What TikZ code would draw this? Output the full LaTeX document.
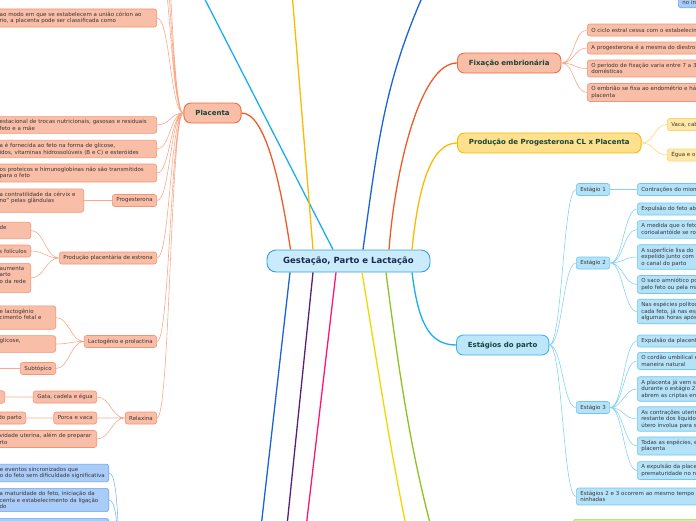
\documentclass[tikz,border=0pt]{standalone}
\usepackage{fontspec}
\setmainfont{DejaVu Sans}
\usetikzlibrary{positioning}

\definecolor{salfill}{HTML}{F9BEA7}
\definecolor{saldraw}{HTML}{F49472}
\definecolor{salmain}{HTML}{F06B40}
\definecolor{salline}{HTML}{F9A98A}
\definecolor{redline}{HTML}{F05A28}
\definecolor{yelfill}{HTML}{FFE08C}
\definecolor{yeldraw}{HTML}{F7B900}
\definecolor{yelsub}{HTML}{FFE7A6}
\definecolor{yelsubdraw}{HTML}{FCD36A}
\definecolor{yelline}{HTML}{FFB900}
\definecolor{yelkid}{HTML}{FFD978}
\definecolor{cyafill}{HTML}{BDE6FA}
\definecolor{cyadraw}{HTML}{3DB2EC}
\definecolor{cyasub}{HTML}{B3E2F9}
\definecolor{cyasubdraw}{HTML}{6FC8F1}
\definecolor{cyaline}{HTML}{1CADEC}
\definecolor{cyakid}{HTML}{86D2F4}
\definecolor{blufill}{HTML}{A9CCF8}
\definecolor{bludraw}{HTML}{6CA3EF}
\definecolor{bluline}{HTML}{1A63DC}
\definecolor{blukid}{HTML}{8AB6F2}
\definecolor{purline}{HTML}{5B1E78}
\definecolor{pinkline}{HTML}{FF1675}
\definecolor{goldline}{HTML}{F2D600}
\definecolor{grnline}{HTML}{8DC21F}
\definecolor{grnfill}{HTML}{D5EBAA}
\definecolor{grndraw}{HTML}{AED36A}
\definecolor{cenfill}{HTML}{C9EBFB}
\definecolor{cendraw}{HTML}{3A9FDB}
\definecolor{centext}{HTML}{1B2B4F}
\definecolor{toptext}{HTML}{134637}
\definecolor{subtext}{HTML}{3B3535}

\tikzset{
  central/.style={draw=cendraw, fill=cenfill, line width=0.9pt, rounded corners=9pt,
    minimum width=163pt, minimum height=22pt, text=centext,
    font=\fontsize{8.5}{10}\selectfont\bfseries},
  topic/.style={line width=0.9pt, rounded corners=7pt, minimum height=20pt,
    inner xsep=11.5pt, text=toptext, font=\fontsize{7}{8}\selectfont\bfseries},
  sub/.style={line width=0.6pt, rounded corners=2.5pt, minimum height=12pt,
    inner xsep=4pt, inner ysep=3pt, align=left, text=subtext,
    font=\fontsize{5.5}{6.5}\selectfont},
  salm/.style={fill=salfill, draw=saldraw},
  yel/.style={fill=yelsub, draw=yelsubdraw},
  cya/.style={fill=cyasub, draw=cyasubdraw},
  blu/.style={fill=blufill, draw=bludraw},
  lkid/.style={out=180, in=0, distance=13pt},
  rkid/.style={out=0, in=180, distance=13pt},
  branch/.style={line width=1.3pt},
  twig/.style={line width=0.6pt}
}

\begin{document}
\begin{tikzpicture}[x=1pt,y=-1pt]
  \useasboundingbox (0,0) rectangle (696,520);
  \clip (0,0) rectangle (696,520);

  \node[central] (gest) at (348.5,261) {Gestação, Parto e Lactação};

  \node[topic, fill=salfill, draw=salmain] (placenta) at (212.5,113) {Placenta};
  \node[topic, fill=salfill, draw=salmain, anchor=west] (fixacao) at (457,63) {Fixação embrionária};
  \node[topic, fill=yelfill, draw=yeldraw, anchor=west] (prodprog) at (457,143) {Produção de Progesterona CL x Placenta};
  \node[topic, fill=cyafill, draw=cyadraw, anchor=west] (estagios) at (456,345) {Estágios do parto};

  % ramos que saem da figura
  \coordinate (upA) at (195,-20);
  \coordinate (upB) at (291,-20);
  \coordinate (upC) at (430,-20);
  \coordinate (dnA) at (259,545);
  \coordinate (dnB) at (285,545);
  \coordinate (dnC) at (304,545);
  \coordinate (dnD) at (410,545);
  \coordinate (dnE) at (436,545);

  \draw[branch, redline] ([xshift=-58pt]gest.north) .. controls (280,180) and (265,113) .. (placenta.east);
  \draw[branch, redline] ([xshift=40.5pt]gest.north) .. controls (395,170) and (420,63) .. (fixacao.west);
  \draw[branch, yelline] ([xshift=63.5pt]gest.north) .. controls (418,190) and (430,143) .. (prodprog.west);
  \draw[branch, cyaline] ([xshift=63.5pt]gest.south) .. controls (418,320) and (428,345) .. (estagios.west);
  \draw[branch, cyaline] ([xshift=-15.5pt]gest.north) -- (upA);
  \draw[branch, yelline] ([xshift=-35.5pt]gest.north) -- (upB);
  \draw[branch, bluline] ([xshift=14.5pt]gest.north) to[out=82,in=-115] (upC);
  \draw[branch, bluline] ([xshift=-58.5pt]gest.south) -- (dnA);
  \draw[branch, purline] ([xshift=-35.5pt]gest.south) -- (dnB);
  \draw[branch, pinkline] ([xshift=-12.5pt]gest.south) -- (dnC);
  \draw[branch, goldline] ([xshift=13.5pt]gest.south) .. controls (380,380) and (390,450) .. (dnD);
  \draw[branch, grnline] ([xshift=37.5pt]gest.south) .. controls (400,380) and (412,460) .. (dnE);

  % Placenta
  \coordinate (pltop1) at (157,-50);
  \coordinate (pltop2) at (157,-90);
  \coordinate (pltop3) at (157,-140);
  \node[sub, salm, anchor=east, text width=153pt] (pl1) at (157,18) {ao modo em que se estabelecem a união córion ao\\rio, a placenta pode ser classificada como};
  \node[sub, salm, anchor=east, text width=153pt] (pl2) at (157,125) {estacional de trocas nutricionais, gasosas e residuais\\feto e a mãe};
  \node[sub, salm, anchor=east, text width=153pt] (pl3) at (157,149) {a é fornecida ao feto na forma de glicose,\\idos, vitaminas hidrossolúveis (B e C) e esteróides};
  \node[sub, salm, anchor=east, text width=153pt] (pl4) at (157,173) {os proteicos e himunoglobinas não são transmitidos\\para o feto};
  \node[sub, salm, anchor=east] (prog) at (157,200.5) {Progesterona};
  \node[sub, salm, anchor=east, text width=80pt] (prog1) at (84,200.5) {a contratilidade da cérvix e\\no” pelas glândulas\\\mbox{}};
  \node[sub, salm, anchor=east] (estr) at (157,258) {Produção placentária de estrona};
  \node[sub, salm, anchor=east, text width=27pt] (estr1) at (31,230.5) {de\\\mbox{}};
  \node[sub, salm, anchor=east] (estr2) at (31,251) {s folículos};
  \node[sub, salm, anchor=east, text width=27pt] (estr3) at (31,278) {aumenta\\arto\\o da rede\\\mbox{}};
  \node[sub, salm, anchor=east] (lact) at (157,341.5) {Lactogênio e prolactina};
  \node[sub, salm, anchor=east, text width=52pt] (lact1) at (56,317.5) {e lactogênio\\cimento fetal e\\\mbox{}};
  \node[sub, salm, anchor=east, text width=52pt] (lact2) at (56,344) {glicose,\\\mbox{}};
  \node[sub, salm, anchor=east] (subt) at (56,368.5) {Subtópico};
  \coordinate (subtkid) at (-10,368.5);
  \node[sub, salm, anchor=east] (relax) at (157,418) {Relaxina};
  \node[sub, salm, anchor=east] (gata) at (97,397) {Gata, cadela e égua};
  \node[sub, salm, anchor=east, text width=50pt] (gata1) at (5,397) {\mbox{}\\\mbox{}};
  \node[sub, salm, anchor=east] (porca) at (97,418) {Porca e vaca};
  \node[sub, salm, anchor=east] (porca1) at (26,418) {do parto};
  \node[sub, salm, anchor=east, text width=93pt] (relax3) at (97,439) {vidade uterina, além de preparar\\rto};

  \draw[twig, salline]
    (placenta.west) to[lkid] (pltop1) (placenta.west) to[lkid] (pltop2) (placenta.west) to[lkid] (pltop3)
    (placenta.west) to[lkid] (pl1.east) (placenta.west) to[lkid] (pl2.east)
    (placenta.west) to[lkid] (pl3.east) (placenta.west) to[lkid] (pl4.east)
    (placenta.west) to[lkid] (prog.east) (placenta.west) to[lkid] (estr.east)
    (placenta.west) to[lkid] (lact.east) (placenta.west) to[lkid] (relax.east)
    (prog.west) to[lkid] (prog1.east)
    (estr.west) to[lkid] (estr1.east) (estr.west) to[lkid] (estr2.east) (estr.west) to[lkid] (estr3.east)
    (lact.west) to[lkid] (lact1.east) (lact.west) to[lkid] (lact2.east) (lact.west) to[lkid] (subt.east)
    (subt.west) to[lkid] (subtkid)
    (relax.west) to[lkid] (gata.east) (relax.west) to[lkid] (porca.east) (relax.west) to[lkid] (relax3.east)
    (gata.west) to[lkid] (gata1.east) (porca.west) to[lkid] (porca1.east);

  % ramo azul embaixo
  \coordinate (blupar) at (128,590);
  \node[sub, blu, anchor=east] (blu1) at (109,473) {e eventos sincronizados que\\o do feto sem dificuldade significativa};
  \node[sub, blu, anchor=east, text width=105pt] (blu2) at (109,500) {a maturidade do feto, iniciação da\\centa e estabelecimento da ligação\\do};
  \node[sub, blu, anchor=north east, text width=105pt] (blu3) at (109,518) {\mbox{}\\\mbox{}\\\mbox{}};
  \draw[twig, blukid] (blupar) to[lkid] (blu1.east)
    (blupar) to[lkid] (blu2.east)
    (blupar) to[lkid] (blu3.east);
  \node[sub, blu, anchor=south west, text width=60pt] (blutop) at (678,8) {\mbox{}\\no in};

  % Fixacao
  \node[sub, salm, anchor=west, text width=150pt] (fix1) at (587,30) {O ciclo estral cessa com o estabelecimento};
  \node[sub, salm, anchor=west, text width=150pt] (fix2) at (587,48) {A progesterona é a mesma do diestro};
  \node[sub, salm, anchor=west, text width=150pt] (fix3) at (587,68.5) {O período de fixação varia entre 7 a 35\\domésticas};
  \node[sub, salm, anchor=west, text width=150pt] (fix4) at (587,92.5) {O embrião se fixa ao endométrio e há\\placenta};
  \draw[twig, salline] (fixacao.east) to[rkid] (fix1.west) (fixacao.east) to[rkid] (fix2.west)
    (fixacao.east) to[rkid] (fix3.west) (fixacao.east) to[rkid] (fix4.west);

  % Progesterona CL x Placenta
  \node[sub, yel, anchor=west, text width=60pt] (cl1) at (667,124.5) {Vaca, cab};
  \node[sub, yel, anchor=west, text width=60pt] (cl2) at (667,155) {Égua e o};
  \draw[twig, yelkid] (prodprog.east) to[rkid] (cl1.west) (prodprog.east) to[rkid] (cl2.west);

  % Estagios do parto
  \node[sub, cya, anchor=west] (est1) at (576,189.5) {Estágio 1};
  \node[sub, cya, anchor=west] (est2) at (576,263) {Estágio 2};
  \node[sub, cya, anchor=west] (est3) at (576,407.5) {Estágio 3};
  \node[sub, cya, anchor=west, text width=150pt] (est4) at (576,496.5) {Estágios 2 e 3 ocorrem ao mesmo tempo em\\ninhadas};
  \node[sub, cya, anchor=west, text width=100pt] (s11) at (637,189.5) {Contrações do miométrio};
  \node[sub, cya, anchor=west, text width=100pt] (s21) at (637,209) {Expulsão do feto ab};
  \node[sub, cya, anchor=west, text width=100pt] (s22) at (637,229.5) {A medida que o feto\\corioalantóide se rompe};
  \node[sub, cya, anchor=west, text width=100pt] (s23) at (637,257) {A superfície lisa do\\expelido junto com\\o canal do parto};
  \node[sub, cya, anchor=west, text width=100pt] (s24) at (637,284.5) {O saco amniótico pode\\pelo feto ou pela mãe};
  \node[sub, cya, anchor=west, text width=100pt] (s25) at (637,311.5) {Nas espécies politocas\\cada feto, já nas espécies\\algumas horas após};
  \node[sub, cya, anchor=west, text width=100pt] (s31) at (637,341) {Expulsão da placenta};
  \node[sub, cya, anchor=west, text width=100pt] (s32) at (637,361) {O cordão umbilical é\\maneira natural};
  \node[sub, cya, anchor=west, text width=100pt] (s33) at (637,389) {A placenta já vem se\\durante o estágio 2\\abrem as criptas endometriais};
  \node[sub, cya, anchor=west, text width=100pt] (s34) at (637,419) {As contrações uterinas\\restante dos líquidos\\útero involua para seu};
  \node[sub, cya, anchor=west, text width=100pt] (s35) at (637,446) {Todas as espécies, exceto\\placenta};
  \node[sub, cya, anchor=west, text width=100pt] (s36) at (637,470.5) {A expulsão da placenta\\prematuridade no nascimento};
  \draw[twig, cyakid]
    (estagios.east) to[rkid] (est1.west) (estagios.east) to[rkid] (est2.west)
    (estagios.east) to[rkid] (est3.west) (estagios.east) to[rkid] (est4.west)
    (est1.east) to[rkid] (s11.west)
    (est2.east) to[rkid] (s21.west) (est2.east) to[rkid] (s22.west) (est2.east) to[rkid] (s23.west)
    (est2.east) to[rkid] (s24.west) (est2.east) to[rkid] (s25.west)
    (est3.east) to[rkid] (s31.west) (est3.east) to[rkid] (s32.west) (est3.east) to[rkid] (s33.west)
    (est3.east) to[rkid] (s34.west) (est3.east) to[rkid] (s35.west) (est3.east) to[rkid] (s36.west);

  \node[sub, fill=grnfill, draw=grndraw, anchor=north west, text width=150pt] (verde) at (573,519) {\mbox{}\\\mbox{}};

\end{tikzpicture}
\end{document}
